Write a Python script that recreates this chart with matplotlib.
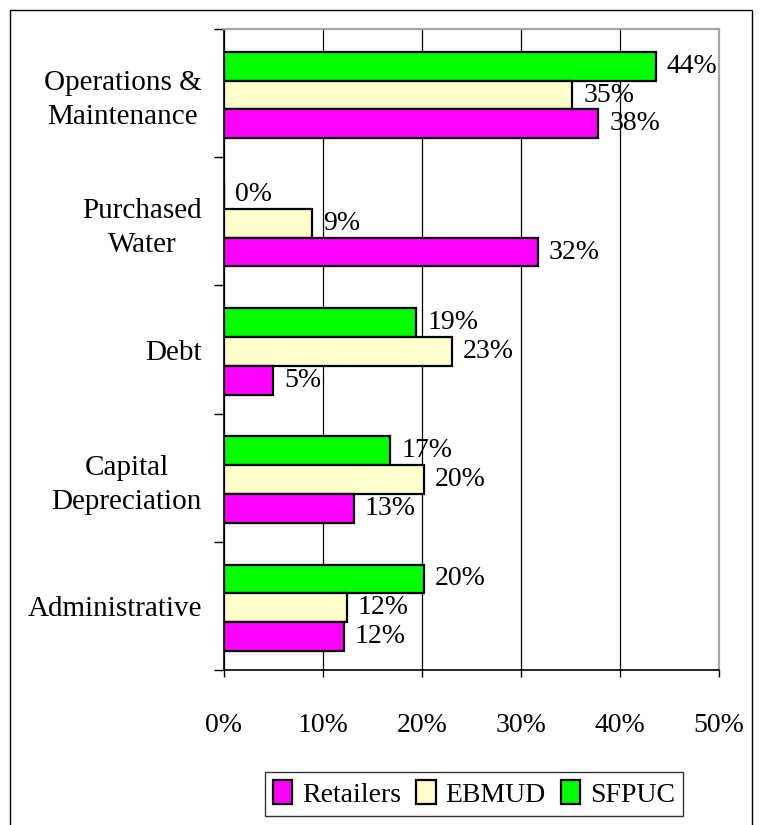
import matplotlib
matplotlib.use('Agg')
import matplotlib.pyplot as plt
import numpy as np
from matplotlib.patches import Rectangle

# cost share by category, top to bottom
categories = ['Operations &\nMaintenance', 'Purchased\nWater', 'Debt',
              'Capital\nDepreciation', 'Administrative']
retailers = [37.8, 31.7, 5.0, 13.1, 12.1]
ebmud = [35.2, 8.9, 23.0, 20.2, 12.4]
sfpuc = [43.6, 0.0, 19.4, 16.8, 20.2]
xticks = [0, 10, 20, 30, 40, 50]

plt.rcParams['font.family'] = ['Liberation Serif', 'DejaVu Serif']
FS = 20

fig = plt.figure(figsize=(7.6, 8.25), dpi=100)
ax = fig.add_axes([224 / 760, 1 - 670 / 825, (719 - 224) / 760, (670 - 29) / 825])

y = np.arange(len(categories))
h = 0.225
series = [('SFPUC', sfpuc, '#00ff00', -h),
          ('EBMUD', ebmud, '#ffffcc', 0.0),
          ('Retailers', retailers, '#ff00ff', h)]
handles = {}
for name, vals, color, off in series:
    bars = ax.barh(y + off + 0.015, vals, height=h, color=color, edgecolor='black',
                   linewidth=1.6, label=name, zorder=3)
    handles[name] = bars
    for yy, v in zip(y + off + 0.015, vals):
        ax.annotate(f'{v:.0f}%', (v, yy), xytext=(8, 0), textcoords='offset points',
                    va='center', ha='left', fontsize=FS, zorder=4)

ax.set_xlim(0, 50)
ax.set_ylim(len(categories) - 0.5, -0.5)
ax.set_xticks(xticks)
ax.set_xticklabels([f'{t}%' for t in xticks], fontsize=FS)
ax.tick_params(axis='x', direction='out', length=5, pad=26, width=1)

# boundary ticks between groups, names on minor ticks
ax.set_yticks(np.arange(len(categories) + 1) - 0.5)
ax.set_yticklabels([])
ax.tick_params(axis='y', which='major', direction='out', length=7, width=1)
ax.set_yticks(y, minor=True)
ax.set_yticklabels(categories, minor=True, fontsize=21, multialignment='center',
                   linespacing=1.4)
ax.tick_params(axis='y', which='minor', length=0, pad=16)

ax.grid(axis='x', color='black', linewidth=0.9, zorder=0)
for side in ('top', 'right'):
    ax.spines[side].set_color('#a6a6a6')
    ax.spines[side].set_linewidth(1.6)
for side in ('left', 'bottom'):
    ax.spines[side].set_linewidth(1.2)

leg = ax.legend([handles['Retailers'], handles['EBMUD'], handles['SFPUC']],
                ['Retailers', 'EBMUD', 'SFPUC'], loc='center', ncol=3,
                bbox_to_anchor=(474 / 760, 1 - 794 / 825), bbox_transform=fig.transFigure,
                fontsize=FS, frameon=True, fancybox=False, edgecolor='black',
                handlelength=0.7, handleheight=0.9, handletextpad=0.35,
                columnspacing=0.55, borderpad=0.3, borderaxespad=0)
leg.get_frame().set_linewidth(1)

# outer frame running off the bottom of the page
fig.patches.append(Rectangle((10 / 760, -0.05), (752 - 10) / 760, 1 - 10 / 825 + 0.05,
                             transform=fig.transFigure, fill=False, edgecolor='black',
                             linewidth=1))

fig.savefig('out.png', dpi=100)
